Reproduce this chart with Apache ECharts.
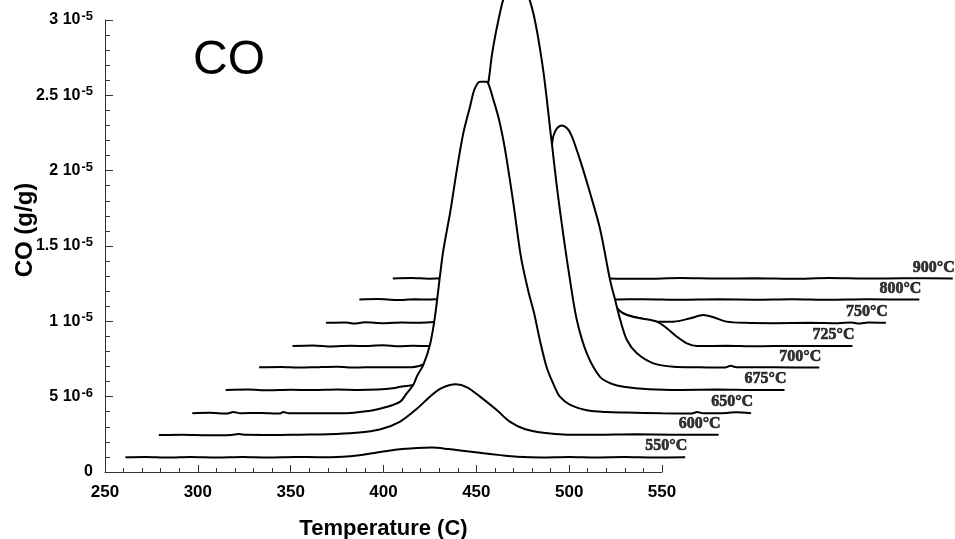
<!DOCTYPE html>
<html>
<head>
<meta charset="utf-8">
<script src="https://cdn.jsdelivr.net/npm/echarts@6/dist/echarts.min.js"></script>
<style>
  html, body { margin: 0; padding: 0; background: #fff; }
  #chart { width: 955px; height: 539px; }
</style>
</head>
<body>
<div id="chart"></div>
<script>
// CO release curves, one per furnace temperature, stacked as a waterfall
// (each run is shifted right and up so the curves can be compared).
// Points are [temperature on the plot axis (C), CO (g/g)].
const co900 = [[405,1.285e-5],[415,1.288e-5],[425,1.283e-5],[445,1.30e-5],[470,1.33e-5],[495,1.35e-5],[512,1.32e-5],[519,1.29e-5],[522,1.285e-5],[540,1.283e-5],[560,1.287e-5],[580,1.284e-5],[600,1.286e-5],[620,1.283e-5],[640,1.287e-5],[660,1.284e-5],[680,1.286e-5],[706.6,1.285e-5]];
const co800 = [[387,1.145e-5],[397,1.148e-5],[407,1.142e-5],[417,1.146e-5],[425,1.145e-5],[445,1.17e-5],[470,1.22e-5],[495,1.26e-5],[510,1.22e-5],[518,1.17e-5],[525,1.145e-5],[540,1.147e-5],[560,1.143e-5],[580,1.146e-5],[600,1.144e-5],[620,1.147e-5],[640,1.143e-5],[660,1.146e-5],[688.6,1.145e-5]];
const co750 = [[369,9.9e-6],[380,9.93e-6],[384,9.85e-6],[390,9.94e-6],[400,9.88e-6],[410,9.92e-6],[420,9.9e-6],[435,1.01e-5],[450,1.06e-5],[470,1.15e-5],[490,1.28e-5],[505,1.35e-5],[514,1.30e-5],[520,1.20e-5],[524,1.12e-5],[526.6,1.075e-5],[531.1,1.042e-5],[538.3,1.02e-5],[547.2,9.98e-6],[556.2,9.98e-6],[565.2,1.02e-5],[572.3,1.042e-5],[577.7,1.027e-5],[584.9,9.98e-6],[595,9.9e-6],[610,9.88e-6],[630,9.9e-6],[645,9.87e-6],[652,9.93e-6],[656,9.85e-6],[661,9.92e-6],[670.6,9.9e-6]];
const co725 = [[351,8.36e-6],[362,8.4e-6],[372,8.33e-6],[382,8.38e-6],[392,8.36e-6],[400,8.42e-6],[408,8.35e-6],[416,8.38e-6],[424,8.36e-6],[432,8.7e-6],[445,9.4e-6],[460,1.05e-5],[475,1.20e-5],[490,1.36e-5],[503,1.45e-5],[512,1.40e-5],[518,1.28e-5],[522.5,1.15e-5],[526.6,1.075e-5],[531.1,1.042e-5],[538.3,1.02e-5],[547.2,9.98e-6],[552.6,9.54e-6],[558,8.98e-6],[563.4,8.54e-6],[568.8,8.36e-6],[585,8.38e-6],[600,8.34e-6],[620,8.37e-6],[652.6,8.36e-6]];
const co700 = [[333,6.95e-6],[345,6.97e-6],[355,6.93e-6],[365,6.96e-6],[375,6.98e-6],[385,6.93e-6],[395,6.96e-6],[405,6.95e-6],[415,6.95e-6],[425,7.3e-6],[435,8.0e-6],[445,9.2e-6],[455,1.10e-5],[465,1.38e-5],[475,1.70e-5],[483,1.98e-5],[488,2.12e-5],[490.7,2.18e-5],[491.5,2.23e-5],[493.4,2.28e-5],[496,2.30e-5],[499,2.28e-5],[501.4,2.23e-5],[505.9,2.07e-5],[511.3,1.85e-5],[516.7,1.61e-5],[522.1,1.27e-5],[524.8,1.14e-5],[527.5,1.01e-5],[531.1,8.76e-6],[536.5,7.88e-6],[545.4,7.21e-6],[556.2,6.99e-6],[570,6.95e-6],[584,6.93e-6],[587,7.05e-6],[590,6.95e-6],[610,6.95e-6],[634.7,6.93e-6]];
const co675 = [[315,5.45e-6],[327,5.47e-6],[338,5.43e-6],[350,5.46e-6],[362,5.44e-6],[375,5.47e-6],[386,5.45e-6],[397,5.48e-6],[405,5.56e-6],[410,5.68e-6],[416,5.77e-6],[420,6.0e-6],[425,6.8e-6],[430,8.5e-6],[435,1.10e-5],[440,1.45e-5],[445,1.85e-5],[450,2.25e-5],[454,2.48e-5],[456.5,2.59e-5],[458.3,2.76e-5],[460.1,2.89e-5],[461.9,3.0e-5],[463.7,3.1e-5],[464.9,3.15e-5],[468,3.26e-5],[471.8,3.31e-5],[475.5,3.25e-5],[478.8,3.13e-5],[480.8,3.04e-5],[482.6,2.93e-5],[484.4,2.80e-5],[486.2,2.65e-5],[488,2.47e-5],[489.8,2.27e-5],[490.7,2.18e-5],[493.4,1.89e-5],[497,1.56e-5],[500.5,1.27e-5],[504.1,1.01e-5],[509.5,7.87e-6],[516.7,6.3e-6],[523,5.85e-6],[529.3,5.66e-6],[543,5.5e-6],[560,5.45e-6],[580,5.47e-6],[600,5.44e-6],[616,5.45e-6]];
const co650 = [[297,3.9e-6],[306,3.93e-6],[316,3.88e-6],[319,3.98e-6],[323,3.9e-6],[334,3.92e-6],[344,3.88e-6],[346,3.98e-6],[349,3.9e-6],[360,3.9e-6],[377,3.9e-6],[393,4.07e-6],[402,4.33e-6],[409,4.67e-6],[412.5,5.22e-6],[416,5.77e-6],[418,6.35e-6],[421.4,7.1e-6],[425,8.43e-6],[427.7,1.03e-5],[430.4,1.30e-5],[432.2,1.47e-5],[436,1.73e-5],[439.7,2.02e-5],[443,2.25e-5],[446.7,2.43e-5],[449,2.54e-5],[452,2.59e-5],[455.5,2.59e-5],[457,2.56e-5],[459.2,2.47e-5],[462,2.35e-5],[464.6,2.20e-5],[466.4,2.07e-5],[470,1.78e-5],[474,1.43e-5],[478,1.20e-5],[481,1.06e-5],[484.5,8.6e-6],[488,6.9e-6],[492,5.7e-6],[495,5.0e-6],[500.6,4.45e-6],[509.5,4.1e-6],[520,3.98e-6],[531,3.95e-6],[550,3.9e-6],[566,3.88e-6],[569,3.98e-6],[572,3.9e-6],[585,3.92e-6],[590,3.97e-6],[598,3.9e-6]];
const co600 = [[279,2.45e-6],[292,2.47e-6],[305,2.44e-6],[318,2.46e-6],[322,2.52e-6],[326,2.47e-6],[340,2.46e-6],[355,2.48e-6],[370,2.5e-6],[385,2.6e-6],[398,2.82e-6],[409,3.35e-6],[418,4.2e-6],[425,5.0e-6],[431,5.55e-6],[439,5.82e-6],[445,5.62e-6],[452,5.0e-6],[461,4.11e-6],[468,3.34e-6],[476,2.85e-6],[486,2.6e-6],[499,2.48e-6],[515,2.47e-6],[535,2.5e-6],[555,2.48e-6],[580.5,2.47e-6]];
const co550 = [[261,0.98e-6],[272,1.0e-6],[284,0.96e-6],[296,1.0e-6],[310,0.97e-6],[324,1.0e-6],[338,0.97e-6],[352,1.0e-6],[366,0.98e-6],[378,1.02e-6],[386,1.1e-6],[394,1.25e-6],[402,1.4e-6],[410,1.52e-6],[418,1.6e-6],[426,1.62e-6],[435,1.52e-6],[445,1.37e-6],[454,1.24e-6],[463,1.12e-6],[472,1.02e-6],[485,0.97e-6],[500,1.0e-6],[515,0.97e-6],[530,0.99e-6],[546,0.96e-6],[562.5,0.98e-6]];

// Back-to-front drawing order, so nearer runs hide the ones behind them
const runLabels = ['900°C', '800°C', '750°C', '725°C', '700°C', '675°C', '650°C', '600°C', '550°C'];
const runs = [co900, co800, co750, co725, co700, co675, co650, co600, co550];

// Axis tick texts: [mantissa part, exponent]
const yTickLabels = [['0', ''], ['5 10', '-6'], ['1 10', '-5'], ['1.5 10', '-5'], ['2 10', '-5'], ['2.5 10', '-5'], ['3 10', '-5']];

// Visible axes span 250-550 C; the shifted runs continue past 550,
// so they sit on a second, hidden axis pair with the same scale.
const X_MIN = 250, X_MAX = 550, X_MAX_RUNS = 710;
const PLOT_LEFT = 105, PLOT_TOP = 20, PLOT_W = 557, PLOT_H = 452;
const runsWidth = PLOT_W * (X_MAX_RUNS - X_MIN) / (X_MAX - X_MIN);

const chart = echarts.init(document.getElementById('chart'), null, { renderer: 'canvas' });

const lineSeries = runs.map((pts, i) => ({
  type: 'line',
  name: runLabels[i],
  xAxisIndex: 1,
  yAxisIndex: 1,
  data: pts,
  z: 10 + i,
  smooth: 0.3,
  showSymbol: false,
  clip: false,
  silent: true,
  lineStyle: { color: '#000', width: 2 },
  areaStyle: { color: '#fff', opacity: 1, origin: 'start' }
}));

const labelSeries = {
  type: 'scatter',
  xAxisIndex: 1,
  yAxisIndex: 1,
  z: 40,
  clip: false,
  silent: true,
  symbolSize: 0,
  data: runs.map((pts, i) => ({ name: runLabels[i], value: pts[pts.length - 1] })),
  label: {
    show: true,
    formatter: '{b}',
    position: 'top',
    align: 'right',
    distance: 3,
    offset: [2, 0],
    fontFamily: 'Liberation Serif',
    fontWeight: 'bold',
    fontSize: 16,
    color: '#000',
    textBorderColor: '#000',
    textBorderWidth: 0.6
  }
};

const axisColor = '#333';

chart.setOption({
  animation: false,
  backgroundColor: '#fff',
  grid: [
    { left: PLOT_LEFT, top: PLOT_TOP, width: PLOT_W, height: PLOT_H, containLabel: false, outerBoundsMode: 'none' },
    { left: PLOT_LEFT, top: PLOT_TOP, width: runsWidth, height: PLOT_H, containLabel: false, outerBoundsMode: 'none' }
  ],
  xAxis: [{
    type: 'value',
    gridIndex: 0,
    min: X_MIN, max: X_MAX, interval: 50,
    z: 50,
    axisLine: { show: true, onZero: false, lineStyle: { color: axisColor, width: 1 } },
    axisTick: { show: true, inside: true, length: 7, lineStyle: { color: axisColor } },
    minorTick: { show: true, splitNumber: 5, length: 4, lineStyle: { color: axisColor } },
    splitLine: { show: false },
    axisLabel: { fontFamily: 'Liberation Sans', fontWeight: 'bold', fontSize: 17, color: '#000', margin: 12 },
    name: 'Temperature (C)',
    nameLocation: 'middle',
    nameGap: 46,
    nameTextStyle: { fontFamily: 'Liberation Sans', fontWeight: 'bold', fontSize: 22, color: '#000' }
  }, {
    type: 'value',
    gridIndex: 1,
    min: X_MIN, max: X_MAX_RUNS,
    show: false
  }],
  yAxis: [{
    type: 'value',
    gridIndex: 0,
    min: 0, max: 3e-5, interval: 5e-6,
    z: 50,
    axisLine: { show: true, onZero: false, lineStyle: { color: axisColor, width: 1 } },
    axisTick: { show: true, inside: true, length: 8, lineStyle: { color: axisColor } },
    minorTick: { show: true, splitNumber: 5, length: 5, lineStyle: { color: axisColor } },
    splitLine: { show: false },
    axisLabel: {
      margin: 12,
      formatter: function (v) {
        const t = yTickLabels[Math.round(v / 5e-6)];
        return t[1] ? '{m|' + t[0] + '}{s|' + t[1] + '}' : '{m|' + t[0] + '}';
      },
      rich: {
        m: { fontFamily: 'Liberation Sans', fontWeight: 'bold', fontSize: 16, color: '#000' },
        s: { fontFamily: 'Liberation Sans', fontWeight: 'bold', fontSize: 13, color: '#000', padding: [0, 0, 7, 1] }
      }
    }
  }, {
    type: 'value',
    gridIndex: 1,
    min: 0, max: 3e-5,
    show: false
  }],
  graphic: [{
    // vertical axis title
    type: 'text',
    z: 100,
    x: 25,
    y: 230,
    rotation: Math.PI / 2,
    style: {
      text: 'CO (g/g)', fontFamily: 'Liberation Sans', fontWeight: 'bold', fontSize: 24,
      fill: '#000', align: 'center', verticalAlign: 'middle'
    }
  }, {
    // species tag
    type: 'text',
    z: 100,
    left: 193,
    top: 37,
    style: { text: 'CO', fontFamily: 'Liberation Sans', fontSize: 48, fill: '#000' }
  }],
  series: lineSeries.concat([labelSeries])
});
</script>
</body>
</html>
